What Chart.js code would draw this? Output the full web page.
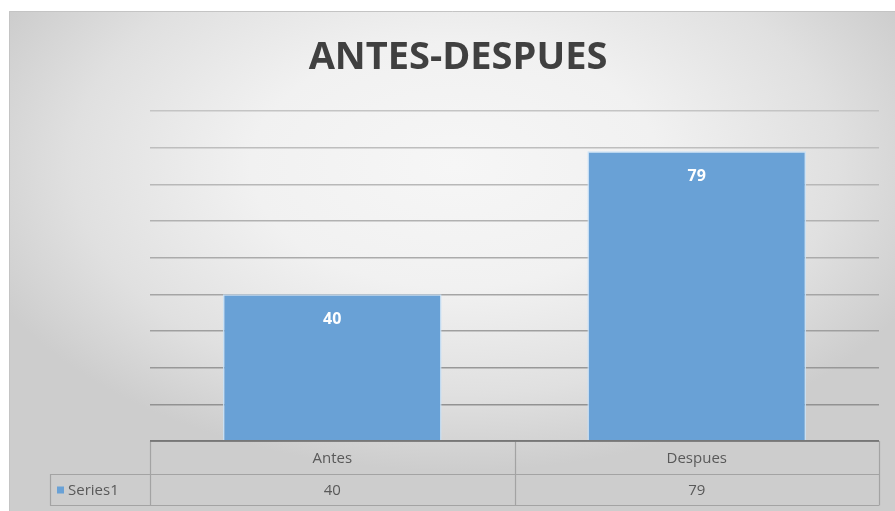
<!DOCTYPE html>
<html>
<head>
<meta charset="utf-8">
<script src="https://cdn.jsdelivr.net/npm/chart.js@4/dist/chart.umd.min.js"></script>
<style>
  html, body { margin: 0; padding: 0; background: #ffffff; }
  #wrap { position: relative; width: 895px; height: 511px; }
</style>
</head>
<body>
<div id="wrap"><canvas id="chart" width="895" height="511"></canvas></div>
<script>
const TITLE = "ANTES-DESPUES";
const CATEGORIES = ["Antes", "Despues"];
const SERIES_NAME = "Series1";
const SERIES_VALUES = [40, 79];

const BAR_COLOR = "#69a1d6";
const TEXT_COLOR = "#595959";

// shaded panel behind everything, light in the middle and grey to the edges
const BACKGROUND_PLUGIN = {
  id: "panelBackground",
  beforeDraw: (chart) => {
    const ctx = chart.ctx;
    ctx.save();
    ctx.fillStyle = "#ffffff";
    ctx.fillRect(0, 0, chart.width, chart.height);
    ctx.beginPath();
    ctx.rect(9, 11, chart.width - 9, chart.height - 11);
    ctx.clip();
    ctx.translate(455, 165);
    ctx.scale(1, 0.6);
    const g = ctx.createRadialGradient(0, 0, 0, 0, 0, 510);
    g.addColorStop(0, "#f6f6f6");
    g.addColorStop(0.4, "#f1f1f1");
    g.addColorStop(0.75, "#e0e0e0");
    g.addColorStop(1, "#cdcdcd");
    ctx.fillStyle = g;
    ctx.fillRect(-600, -600, 1200, 1400);
    ctx.restore();
    ctx.save();
    ctx.strokeStyle = "#c4c4c4";
    ctx.lineWidth = 1;
    ctx.beginPath();
    ctx.moveTo(9.5, chart.height);
    ctx.lineTo(9.5, 11.5);
    ctx.lineTo(chart.width, 11.5);
    ctx.stroke();
    ctx.restore();
  },
};

// title, value labels inside the bars and the data table under the plot
const DECOR_PLUGIN = {
  id: "decor",
  afterDatasetsDraw: (chart) => {
    const ctx = chart.ctx;
    const area = chart.chartArea;
    const xScale = chart.scales.x;
    const meta = chart.getDatasetMeta(0);

    ctx.save();
    ctx.fillStyle = "#404040";
    ctx.font = "bold 38px 'Open Sans'";
    ctx.textAlign = "center";
    ctx.textBaseline = "middle";
    ctx.fillText(TITLE, 458, 58);

    ctx.fillStyle = "#ffffff";
    ctx.font = "bold 16px 'Open Sans'";
    meta.data.forEach((bar, i) => {
      ctx.fillText(String(SERIES_VALUES[i]), bar.x, bar.y + 25);
    });

    // table grid
    const rowH = 33;
    const top = area.bottom;
    const left = area.left;
    const right = area.right;
    const labelLeft = 50;
    const cellEdges = [left];
    CATEGORIES.forEach((_, i) => {
      const c = xScale.getPixelForValue(i);
      const next = i < CATEGORIES.length - 1 ? xScale.getPixelForValue(i + 1) : null;
      cellEdges.push(next === null ? right : (c + next) / 2);
    });

    ctx.strokeStyle = "#a3a3a3";
    ctx.lineWidth = 1.2;
    ctx.beginPath();
    ctx.moveTo(labelLeft, top + rowH + 0.5);
    ctx.lineTo(right, top + rowH + 0.5);
    ctx.moveTo(labelLeft, top + rowH * 2 - 1.5);
    ctx.lineTo(right, top + rowH * 2 - 1.5);
    cellEdges.forEach((x) => {
      ctx.moveTo(Math.round(x) + 0.5, top);
      ctx.lineTo(Math.round(x) + 0.5, top + rowH * 2 - 1.5);
    });
    ctx.moveTo(labelLeft + 0.5, top + rowH);
    ctx.lineTo(labelLeft + 0.5, top + rowH * 2 - 1.5);
    ctx.stroke();

    ctx.strokeStyle = "#707070";
    ctx.lineWidth = 1.6;
    ctx.beginPath();
    ctx.moveTo(left, top);
    ctx.lineTo(right, top);
    ctx.stroke();

    ctx.fillStyle = TEXT_COLOR;
    ctx.font = "15px 'Open Sans'";
    CATEGORIES.forEach((name, i) => {
      const x = xScale.getPixelForValue(i);
      ctx.fillText(name, x, top + rowH / 2 + 1);
      ctx.fillText(String(SERIES_VALUES[i]), x, top + rowH * 1.5);
    });

    ctx.textAlign = "left";
    ctx.fillText(SERIES_NAME, 68, top + rowH * 1.5);
    ctx.fillStyle = BAR_COLOR;
    ctx.fillRect(57, top + rowH * 1.5 - 4, 7, 7);
    ctx.restore();
  },
};

// gridlines fade from mid grey near the base to pale grey at the top
function gridShade(ctx) {
  const v = ctx.tick ? ctx.tick.value : 0;
  const c = Math.round(140 + (v / 90) * 56);
  return `rgb(${c}, ${c}, ${c})`;
}

new Chart(document.getElementById("chart"), {
  type: "bar",
  data: {
    labels: CATEGORIES,
    datasets: [
      {
        label: SERIES_NAME,
        data: SERIES_VALUES,
        backgroundColor: BAR_COLOR,
        borderColor: "rgba(200, 225, 247, 0.9)",
        borderWidth: 1.5,
        barPercentage: 0.6,
        categoryPercentage: 1,
      },
    ],
  },
  options: {
    responsive: false,
    animation: false,
    devicePixelRatio: 1,
    layout: {
      padding: { left: 150, right: 16, top: 111, bottom: 70 },
    },
    plugins: {
      legend: { display: false },
      title: { display: false },
      tooltip: { enabled: false },
    },
    scales: {
      x: { display: false },
      y: {
        min: 0,
        max: 90,
        ticks: { display: false, stepSize: 10 },
        border: { display: false },
        grid: {
          color: gridShade,
          lineWidth: 1.4,
          drawTicks: false,
        },
      },
    },
  },
  plugins: [BACKGROUND_PLUGIN, DECOR_PLUGIN],
});
</script>
</body>
</html>
